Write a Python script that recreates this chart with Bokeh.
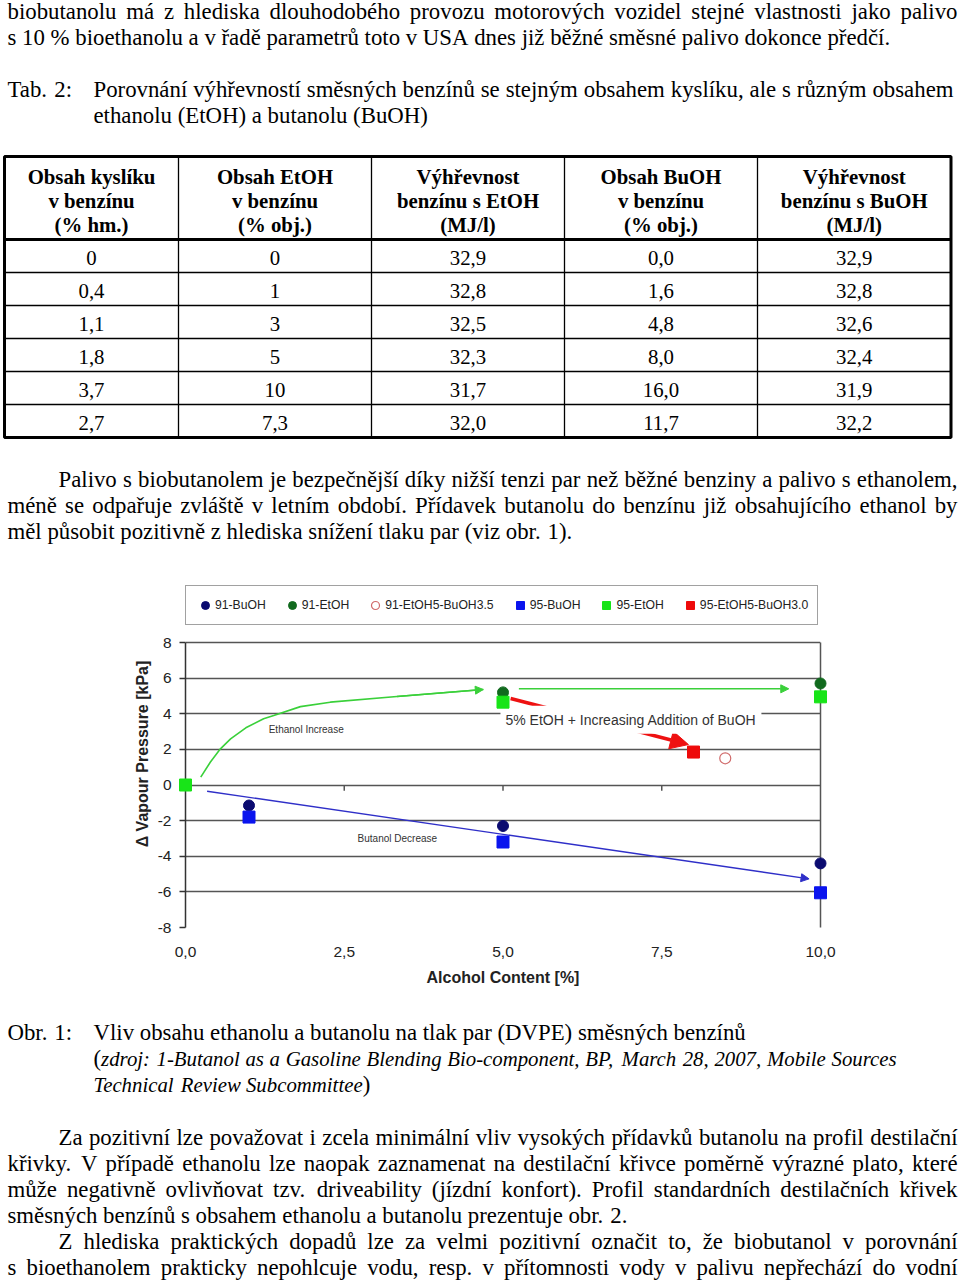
import os
import glob
import struct
import subprocess

from bokeh.plotting import figure
from bokeh.models import (Range1d, FixedTicker, CustomJSTickFormatter, Legend,
                          LegendItem, Arrow, NormalHead, Label, LinearAxis)
from bokeh.layouts import column
from bokeh.core.properties import value
from bokeh.embed import file_html
from bokeh.resources import INLINE

# ------------------------------------------------------------------ data
# Tab. 2
tab_headers = [
    ["Obsah kyslíku", "v benzínu", "(% hm.)"],
    ["Obsah EtOH", "v benzínu", "(% obj.)"],
    ["Výhřevnost", "benzínu s EtOH", "(MJ/l)"],
    ["Obsah BuOH", "v benzínu", "(% obj.)"],
    ["Výhřevnost", "benzínu s BuOH", "(MJ/l)"],
]
oxygen = ["0", "0,4", "1,1", "1,8", "3,7", "2,7"]
etoh_content = ["0", "1", "3", "5", "10", "7,3"]
etoh_heat = ["32,9", "32,8", "32,5", "32,3", "31,7", "32,0"]
buoh_content = ["0,0", "1,6", "4,8", "8,0", "16,0", "11,7"]
buoh_heat = ["32,9", "32,8", "32,6", "32,4", "31,9", "32,2"]

# Obr. 1 series (alcohol content %, delta vapour pressure kPa)
bu91_x = [1.0, 5.0, 10.0]
bu91_y = [-1.15, -2.3, -4.4]
et91_x = [5.0, 10.0]
et91_y = [5.2, 5.7]
mix91_x = [8.5]
mix91_y = [1.5]
bu95_x = [1.0, 5.0, 10.0]
bu95_y = [-1.8, -3.2, -6.05]
et95_x = [0.0, 5.0, 10.0]
et95_y = [0.0, 4.65, 4.95]
mix95_x = [8.0]
mix95_y = [1.85]

legend_labels = ["91-BuOH", "91-EtOH", "91-EtOH5-BuOH3.5",
                 "95-BuOH", "95-EtOH", "95-EtOH5-BuOH3.0"]

# trend sketches drawn in the chart
eth_curve_x = [0.24, 0.39, 0.55, 0.71, 0.95, 1.23, 1.39, 1.81, 2.28, 3.33, 4.69]
eth_curve_y = [0.44, 1.28, 2.03, 2.59, 3.21, 3.72, 3.90, 4.40, 4.65, 4.97, 5.36]
eth_arrow2_x = [5.25, 9.5]
eth_arrow2_y = [5.4, 5.4]
but_arrow_x = [0.34, 9.82]
but_arrow_y = [-0.35, -5.27]
mix_arrow_x = [5.12, 7.92]
mix_arrow_y = [4.86, 2.27]

x_ticks = [0.0, 2.5, 5.0, 7.5, 10.0]
y_ticks = [-8, -6, -4, -2, 0, 2, 4, 6, 8]

# body text (baseline y, left x, right x for justified lines or None, runs)
top_lines = [
    (17.5, 7, 957, [("biobutanolu má z hlediska dlouhodobého provozu motorových vozidel stejné vlastnosti jako palivo", "normal")]),
    (43.5, 7, None, [("s 10 % bioethanolu a v řadě parametrů toto v USA dnes již běžné směsné palivo dokonce předčí.", "normal")]),
    (95.5, 7, None, [("Tab. 2:", "normal")]),
    (95.5, 93, 953, [("Porovnání výhřevností směsných benzínů se stejným obsahem kyslíku, ale s různým obsahem", "normal")]),
    (121.5, 93, None, [("ethanolu (EtOH) a butanolu (BuOH)", "normal")]),
    (485.5, 58, 957, [("Palivo s biobutanolem je bezpečnější díky nižší tenzi par než běžné benziny a palivo s ethanolem,", "normal")]),
    (511.5, 7, 957, [("méně se odpařuje zvláště v letním období. Přídavek butanolu do benzínu již obsahujícího ethanol by", "normal")]),
    (537.5, 7, None, [("měl působit pozitivně z hlediska snížení tlaku par (viz obr. 1).", "normal")]),
]
bottom_lines = [
    (1038.5, 7, None, [("Obr. 1:", "normal")]),
    (1038.5, 93, None, [("Vliv obsahu ethanolu a butanolu na tlak par (DVPE) směsných benzínů", "normal")]),
    (1064.5, 93, None, [("(", "normal"), ("zdroj: 1-Butanol as a Gasoline Blending Bio-component, BP, March 28, 2007, Mobile Sources", "italic")]),
    (1090.5, 93, None, [("Technical Review Subcommittee", "italic"), (")", "normal")]),
    (1143.5, 58, 957, [("Za pozitivní lze považovat i zcela minimální vliv vysokých přídavků butanolu na profil destilační", "normal")]),
    (1169.5, 7, 957, [("křivky. V případě ethanolu lze naopak zaznamenat na destilační křivce poměrně výrazné plato, které", "normal")]),
    (1195.5, 7, 957, [("může negativně ovlivňovat tzv. driveability (jízdní konfort). Profil standardních destilačních křivek", "normal")]),
    (1221.5, 7, None, [("směsných benzínů s obsahem ethanolu a butanolu prezentuje obr. 2.", "normal")]),
    (1247.5, 58, 957, [("Z hlediska praktických dopadů lze za velmi pozitivní označit to, že biobutanol v porovnání", "normal")]),
    (1273.5, 7, 957, [("s bioethanolem prakticky nepohlcuje vodu, resp. v přítomnosti vody v palivu nepřechází do vodní", "normal")]),
]

# ------------------------------------------------------------------ font metrics (for justification)
SERIF = "Liberation Serif"
SANS = "Liberation Sans"


def _find_font(style):
    base = {"normal": "LiberationSerif-Regular", "bold": "LiberationSerif-Bold",
            "italic": "LiberationSerif-Italic"}[style]
    fc_style = {"normal": "Regular", "bold": "Bold", "italic": "Italic"}[style]
    try:
        out = subprocess.run(["fc-match", "-f", "%{file}", "Liberation Serif:style=" + fc_style],
                             capture_output=True, text=True, timeout=5).stdout.strip()
        if out and os.path.exists(out) and "LiberationSerif" in os.path.basename(out):
            return out
    except Exception:
        pass
    for root in ["/usr/share/fonts", "/usr/local/share/fonts",
                 os.path.expanduser("~/.fonts"), os.path.expanduser("~/.local/share/fonts")]:
        hits = sorted(glob.glob(os.path.join(root, "**", base + "*.ttf"), recursive=True))
        if hits:
            return hits[0]
    return None


def _load_width_fn(path):
    data = open(path, "rb").read()
    num = struct.unpack(">H", data[4:6])[0]
    tabs = {}
    for i in range(num):
        tag, _, off, _ln = struct.unpack(">4sIII", data[12 + 16 * i:28 + 16 * i])
        tabs[tag.decode("latin-1")] = off
    upem = struct.unpack(">H", data[tabs["head"] + 18:tabs["head"] + 20])[0]
    nhm = struct.unpack(">H", data[tabs["hhea"] + 34:tabs["hhea"] + 36])[0]
    ho = tabs["hmtx"]
    adv = struct.unpack(">" + "Hh" * nhm, data[ho:ho + 4 * nhm])[0::2]
    co = tabs["cmap"]
    nsub = struct.unpack(">H", data[co + 2:co + 4])[0]
    sub = None
    for i in range(nsub):
        pid, eid, so = struct.unpack(">HHI", data[co + 4 + 8 * i:co + 12 + 8 * i])
        fmt = struct.unpack(">H", data[co + so:co + so + 2])[0]
        if fmt == 4 and pid in (0, 3):
            sub = co + so
            if pid == 3:
                break
    seg2 = struct.unpack(">H", data[sub + 6:sub + 8])[0]
    seg = seg2 // 2
    ends = struct.unpack(">%dH" % seg, data[sub + 14:sub + 14 + seg2])
    sp = sub + 16 + seg2
    starts = struct.unpack(">%dH" % seg, data[sp:sp + seg2])
    dp = sp + seg2
    deltas = struct.unpack(">%dH" % seg, data[dp:dp + seg2])
    rp = dp + seg2
    roffs = struct.unpack(">%dH" % seg, data[rp:rp + seg2])

    def gid(c):
        for i in range(seg):
            if ends[i] >= c:
                if starts[i] > c:
                    return 0
                if roffs[i] == 0:
                    return (c + deltas[i]) & 0xFFFF
                a = rp + 2 * i + roffs[i] + 2 * (c - starts[i])
                g = struct.unpack(">H", data[a:a + 2])[0]
                return (g + deltas[i]) & 0xFFFF if g else 0
        return 0

    def width(s, size):
        tot = 0
        for ch in s:
            g = gid(ord(ch))
            tot += adv[g] if g < nhm else adv[-1]
        return tot * size / upem
    return width


def _fallback_width(s, size):
    tot = 0.0
    for ch in s:
        if ch == " ":
            tot += 0.25
        elif ch in "il.,:;'!|()[]jtfrí":
            tot += 0.30
        elif ch in "mwMW%":
            tot += 0.80
        elif ch.isupper():
            tot += 0.68
        else:
            tot += 0.48
    return tot * size


WIDTH = {}
for _st in ("normal", "bold", "italic"):
    fn = None
    try:
        pth = _find_font(_st)
        if pth:
            fn = _load_width_fn(pth)
    except Exception:
        fn = None
    WIDTH[_st] = fn or _fallback_width


def tokenize(runs):
    words = []
    new_word = True
    for text, style in runs:
        parts = text.split(" ")
        for k, part in enumerate(parts):
            if k > 0:
                new_word = True
            if part == "":
                continue
            if new_word or not words:
                words.append([(part, style)])
            else:
                words[-1].append((part, style))
            new_word = False
    return words


STYLE_SIZE = {"normal": 22.8, "italic": 20.8, "bold": 22.8}   # px
BASE_FIX = -6.5   # baseline correction for rendered text


def draw_text_lines(p, lines):
    cols = {"normal": ([], [], []), "italic": ([], [], []), "bold": ([], [], [])}
    for y, x0, x1, runs in lines:
        words = tokenize(runs)
        wws = [sum(WIDTH[st](t, STYLE_SIZE[st]) for t, st in w) for w in words]
        st0 = words[0][0][1]
        space = WIDTH[st0](" ", STYLE_SIZE[st0])
        if x1 is not None and len(words) > 1:
            gap = (x1 - x0 - sum(wws)) / (len(words) - 1)
        else:
            gap = space
        x = x0
        for w, ww in zip(words, wws):
            xx = x
            for t, st in w:
                cols[st][0].append(xx)
                cols[st][1].append(y + BASE_FIX)
                cols[st][2].append(t)
                xx += WIDTH[st](t, STYLE_SIZE[st])
            x += ww + gap
    for st, (xs, ys, ts) in cols.items():
        if xs:
            p.text(x=xs, y=ys, text=ts, text_font=value(SERIF),
                   text_font_size="%.2fpx" % STYLE_SIZE[st],
                   text_font_style=st, text_color="#000000",
                   text_align="left", text_baseline="alphabetic")


# ------------------------------------------------------------------ page geometry (page px)
PAGE_W = 960
TOP_END = 570
CHART_END = 1005
PAGE_END = 1284


def text_figure(y0, y1):
    f = figure(width=PAGE_W, height=y1 - y0, x_range=Range1d(0, PAGE_W), y_range=Range1d(y1, y0),
               x_axis_type=None, y_axis_type=None, output_backend="svg",
               toolbar_location=None, min_border=0, title=None, frame_align=False)
    f.min_border_left = f.min_border_right = f.min_border_top = f.min_border_bottom = 0
    f.outline_line_color = None
    f.background_fill_color = "white"
    f.border_fill_color = "white"
    return f


# ------------------------------------------------------------------ top part: text + table
top = text_figure(0, TOP_END)
draw_text_lines(top, top_lines)

col_edges = [4, 178, 371, 564, 757, 950.5]
table_top, header_bottom, row_h = 156, 239, 33
n_rows = len(oxygen)
row_edges = [header_bottom + i * row_h for i in range(n_rows + 1)]
table_bottom = row_edges[-1]
TAB_SIZE = 20.8

top.segment(x0=col_edges[1:-1], y0=[table_top] * 4, x1=col_edges[1:-1], y1=[table_bottom] * 4,
            line_color="black", line_width=1.3)
top.segment(x0=[col_edges[0]] * (n_rows - 1), y0=row_edges[1:-1],
            x1=[col_edges[-1]] * (n_rows - 1), y1=row_edges[1:-1],
            line_color="black", line_width=1.3)
top.segment(x0=[col_edges[0]], y0=[header_bottom], x1=[col_edges[-1]], y1=[header_bottom],
            line_color="black", line_width=3)
top.quad(left=[col_edges[0]], right=[col_edges[-1]], top=[table_top], bottom=[table_bottom],
         fill_color=None, line_color="black", line_width=3)

centers = [(a + b) / 2 for a, b in zip(col_edges[:-1], col_edges[1:])]
hx, hy, ht = [], [], []
for cx, lines3 in zip(centers, tab_headers):
    for k, t in enumerate(lines3):
        hx.append(cx)
        hy.append(table_top + 26 + 24 * k + BASE_FIX)
        ht.append(t)
top.text(x=hx, y=hy, text=ht, text_font=value(SERIF), text_font_style="bold",
         text_font_size="%.2fpx" % TAB_SIZE, text_align="center",
         text_baseline="alphabetic", text_color="black")
dx, dy, dt = [], [], []
for cx, colvals in zip(centers, [oxygen, etoh_content, etoh_heat, buoh_content, buoh_heat]):
    for i, t in enumerate(colvals):
        dx.append(cx)
        dy.append(row_edges[i] + 24.5 + BASE_FIX)
        dt.append(t)
top.text(x=dx, y=dy, text=dt, text_font=value(SERIF),
         text_font_size="%.2fpx" % TAB_SIZE, text_align="center",
         text_baseline="alphabetic", text_color="black")

# ------------------------------------------------------------------ chart
GRID = "#555555"
FRAME_TOP, PLOT_TOP, PLOT_BOTTOM = 580, 642, 927        # page px
px_per_unit = (PLOT_BOTTOM - PLOT_TOP) / (y_ticks[-1] - y_ticks[0])
y_hi = y_ticks[-1] + (PLOT_TOP - FRAME_TOP) / px_per_unit  # room for the legend above y=8

chart = figure(width=PAGE_W, height=CHART_END - TOP_END,
               x_range=Range1d(0, 10), y_range=Range1d(y_ticks[0], y_hi),
               output_backend="svg", toolbar_location=None, title=None, frame_align=False,
               min_border_left=185, min_border_right=140,
               min_border_top=FRAME_TOP - TOP_END, min_border_bottom=CHART_END - PLOT_BOTTOM)
chart.background_fill_color = "white"
chart.border_fill_color = "white"
chart.outline_line_color = None
chart.xgrid.visible = False
chart.ygrid.ticker = FixedTicker(ticks=y_ticks)
chart.ygrid.grid_line_color = GRID
chart.ygrid.grid_line_width = 1.5

chart.xaxis.ticker = FixedTicker(ticks=x_ticks)
chart.xaxis.formatter = CustomJSTickFormatter(code="return tick.toFixed(1).replace('.', ',');")
chart.xaxis.axis_line_color = None
chart.xaxis.major_tick_line_color = None
chart.xaxis.minor_tick_line_color = None
chart.xaxis.major_label_standoff = 13
chart.xaxis.major_label_text_font = SANS
chart.xaxis.major_label_text_font_size = "15.5px"
chart.xaxis.major_label_text_color = "#222222"
chart.xaxis.axis_label = "Alcohol Content [%]"
chart.xaxis.axis_label_text_font = SANS
chart.xaxis.axis_label_text_font_size = "16px"
chart.xaxis.axis_label_text_font_style = "bold"
chart.xaxis.axis_label_text_color = "#222222"
chart.xaxis.axis_label_standoff = 9

chart.yaxis.ticker = FixedTicker(ticks=y_ticks)
chart.yaxis.bounds = (y_ticks[0], y_ticks[-1])
chart.yaxis.formatter = CustomJSTickFormatter(code="return String(tick);")
chart.yaxis.axis_line_color = "#333333"
chart.yaxis.axis_line_width = 1.5
chart.yaxis.major_tick_line_color = "#333333"
chart.yaxis.major_tick_line_width = 1.5
chart.yaxis.major_tick_out = 6
chart.yaxis.major_tick_in = 0
chart.yaxis.minor_tick_line_color = None
chart.yaxis.major_label_standoff = 8
chart.yaxis.major_label_text_font = SANS
chart.yaxis.major_label_text_font_size = "15.5px"
chart.yaxis.major_label_text_color = "#222222"
chart.yaxis.axis_label = "Δ Vapour Pressure [kPa]"
chart.yaxis.axis_label_text_font = SANS
chart.yaxis.axis_label_text_font_size = "16px"
chart.yaxis.axis_label_text_font_style = "bold"
chart.yaxis.axis_label_text_color = "#222222"
chart.yaxis.axis_label_standoff = 4

# right-hand border of the plot area (y from -8 to 8 only)
right_axis = LinearAxis(bounds=(y_ticks[0], y_ticks[-1]), ticker=FixedTicker(ticks=y_ticks),
                        axis_line_color=GRID, axis_line_width=1.5,
                        major_tick_line_color=None, minor_tick_line_color=None,
                        major_label_text_font_size="0px", major_label_text_alpha=0)
chart.add_layout(right_axis, "right")

# small tick marks on the zero line (axis crossing)
mid_ticks = x_ticks[1:-1]
chart.segment(x0=mid_ticks, y0=[0] * len(mid_ticks), x1=mid_ticks, y1=[-0.32] * len(mid_ticks),
              line_color=GRID, line_width=1.5)

# trend curves / arrows
GREEN_L = "#3ad03a"
BLUE_L = "#2f2fc8"
RED_L = "#ee1111"
chart.line(eth_curve_x, eth_curve_y, line_color=GREEN_L, line_width=1.6)
chart.add_layout(Arrow(end=NormalHead(size=8, fill_color=GREEN_L, line_color=GREEN_L),
                       x_start=eth_curve_x[-2], y_start=eth_curve_y[-2],
                       x_end=eth_curve_x[-1], y_end=eth_curve_y[-1],
                       line_color=GREEN_L, line_width=1.6))
chart.add_layout(Arrow(end=NormalHead(size=8, fill_color=GREEN_L, line_color=GREEN_L),
                       x_start=eth_arrow2_x[0], y_start=eth_arrow2_y[0],
                       x_end=eth_arrow2_x[1], y_end=eth_arrow2_y[1],
                       line_color=GREEN_L, line_width=1.6))
chart.add_layout(Arrow(end=NormalHead(size=8, fill_color=BLUE_L, line_color=BLUE_L),
                       x_start=but_arrow_x[0], y_start=but_arrow_y[0],
                       x_end=but_arrow_x[1], y_end=but_arrow_y[1],
                       line_color=BLUE_L, line_width=1.4))
chart.add_layout(Arrow(end=NormalHead(size=18, fill_color=RED_L, line_color=RED_L),
                       x_start=mix_arrow_x[0], y_start=mix_arrow_y[0],
                       x_end=mix_arrow_x[1], y_end=mix_arrow_y[1],
                       line_color=RED_L, line_width=3.5))
chart.add_layout(Label(x=4.96, y=3.66, text="5% EtOH + Increasing Addition of BuOH",
                       text_font=SANS, text_font_size="14px", text_color="#333333",
                       text_baseline="middle", text_align="left",
                       background_fill_color="white", background_fill_alpha=1.0,
                       padding=(5, 6)))
chart.add_layout(Label(x=1.31, y=3.12, text="Ethanol Increase", text_font=SANS,
                       text_font_size="10px", text_color="#333333", text_baseline="middle"))
chart.add_layout(Label(x=2.71, y=-3.0, text="Butanol Decrease", text_font=SANS,
                       text_font_size="10px", text_color="#333333", text_baseline="middle"))

# data points
r_bu91 = chart.scatter(bu91_x, bu91_y, marker="circle", size=11,
                       fill_color="#0b0b70", line_color="#0b0b70", level="overlay")
r_et91 = chart.scatter(et91_x, et91_y, marker="circle", size=11,
                       fill_color="#116a1e", line_color="#116a1e", level="overlay")
r_mix91 = chart.scatter(mix91_x, mix91_y, marker="circle", size=11,
                        fill_color=None, line_color="#d06a6a", line_width=1.2, level="overlay")
r_bu95 = chart.scatter(bu95_x, bu95_y, marker="square", size=12,
                       fill_color="#0a14ee", line_color="#0a14ee", level="overlay")
r_et95 = chart.scatter(et95_x, et95_y, marker="square", size=12,
                       fill_color="#18e418", line_color="#18e418", level="overlay")
r_mix95 = chart.scatter(mix95_x, mix95_y, marker="square", size=12,
                        fill_color="#ee0a0a", line_color="#ee0a0a", level="overlay")

LEGEND_BOTTOM = 625
legend = Legend(items=[LegendItem(label=lab, renderers=[r]) for lab, r in
                       zip(legend_labels, [r_bu91, r_et91, r_mix91, r_bu95, r_et95, r_mix95])],
                orientation="horizontal", location=(0, PLOT_BOTTOM - LEGEND_BOTTOM),
                margin=0, padding=9, spacing=16,
                glyph_width=20, glyph_height=20, label_height=18, label_standoff=0,
                border_line_color="#444444", border_line_width=1.3,
                background_fill_color="white", background_fill_alpha=1.0,
                label_text_font=SANS, label_text_font_size="12.2px",
                label_text_color="#222222", label_text_baseline="middle")
chart.add_layout(legend)

# ------------------------------------------------------------------ bottom text
bottom = text_figure(CHART_END, PAGE_END)
draw_text_lines(bottom, bottom_lines)

page = column(top, chart, bottom, spacing=0)
with open("out.html", "w", encoding="utf-8") as fh:
    fh.write(file_html(page, INLINE))
